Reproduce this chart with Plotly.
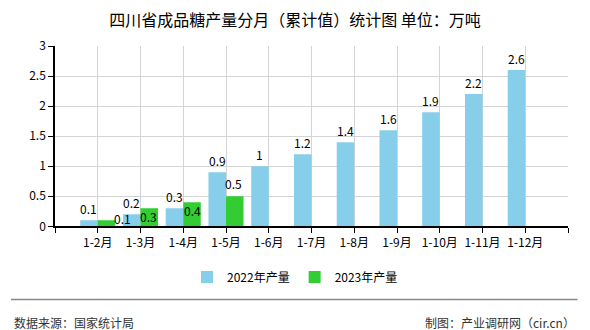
import plotly.graph_objects as go

categories = ["1-2月", "1-3月", "1-4月", "1-5月", "1-6月", "1-7月", "1-8月", "1-9月", "1-10月", "1-11月", "1-12月"]
values_2022 = [0.1, 0.2, 0.3, 0.9, 1, 1.2, 1.4, 1.6, 1.9, 2.2, 2.6]
values_2023 = [0.1, 0.3, 0.4, 0.5, None, None, None, None, None, None, None]
y_ticks = [0, 0.5, 1, 1.5, 2, 2.5, 3]
y_tick_labels = ["0", "0.5", "1", "1.5", "2", "2.5", "3"]

# label pixel offsets for the 2023 series (as drawn in the reference)
label_dx_2023 = [16, -1, 0, -1]
label_dy_2023 = [2, -8, -8, 13]

FONT = "SimSun, Noto Sans CJK SC, sans-serif"
BLUE = "#87CEEB"
GREEN = "#32CD32"
BARGAP = 0.18

xs = list(range(len(categories)))

fig = go.Figure()
fig.add_trace(go.Bar(x=xs, y=values_2022, name="2022年产量", marker_color=BLUE,
                     marker_line_width=0))
fig.add_trace(go.Bar(x=xs, y=values_2023, name="2023年产量", marker_color=GREEN,
                     marker_line_width=0))

half = (1 - BARGAP) / 4  # centre offset of each bar inside a group

annotations = []
for i, v in enumerate(values_2022):
    annotations.append(dict(x=i - half, y=v, xref="x", yref="y", text=str(v),
                            showarrow=False, yanchor="middle", yshift=12,
                            font=dict(family=FONT, size=12, color="#000")))
for i, v in enumerate(values_2023):
    if v is None:
        continue
    annotations.append(dict(x=i + half, y=v, xref="x", yref="y", text=str(v),
                            showarrow=False, yanchor="middle",
                            xshift=label_dx_2023[i], yshift=label_dy_2023[i],
                            font=dict(family=FONT, size=12, color="#000")))

annotations.append(dict(text="数据来源：国家统计局", xref="paper", yref="paper",
                        x=-0.0829, y=-0.5355, xanchor="left", yanchor="middle", showarrow=False,
                        font=dict(family=FONT, size=12, color="#333")))
annotations.append(dict(text="制图：产业调研网（cir.cn）", xref="paper", yref="paper",
                        x=1.0185, y=-0.5355, xanchor="right", yanchor="middle", showarrow=False,
                        font=dict(family=FONT, size=12, color="#333")))

tickvals = [-1] + xs + [len(categories)]
ticktext = [""] + categories + [""]

fig.update_layout(
    width=590, height=330,
    margin=dict(l=55, r=22, t=46, b=101),
    paper_bgcolor="white", plot_bgcolor="white",
    barmode="group", bargap=BARGAP, bargroupgap=0,
    title=dict(text="四川省成品糖产量分月（累计值）统计图 单位：万吨", x=0.5, xref="container",
               y=1 - 20 / 330, yref="container", xanchor="center", yanchor="middle",
               font=dict(family=FONT, size=16, color="#000")),
    font=dict(family=FONT, size=12, color="#000"),
    xaxis=dict(range=[-1, len(categories)], tickmode="array", tickvals=tickvals, ticktext=ticktext,
               showgrid=True, gridcolor="#d4d4d4", gridwidth=1,
               showline=True, linecolor="#000", linewidth=1.5,
               ticks="outside", ticklen=5, tickcolor="#000", tickwidth=1,
               tickfont=dict(family=FONT, size=12, color="#000"), zeroline=False,
               fixedrange=True),
    yaxis=dict(range=[0, 3], tickmode="array", tickvals=y_ticks, ticktext=y_tick_labels,
               showgrid=True, gridcolor="#d4d4d4", gridwidth=1,
               showline=True, linecolor="#000", linewidth=1.5,
               ticks="outside", ticklen=5, tickcolor="#000", tickwidth=1,
               tickfont=dict(family=FONT, size=12, color="#000"), zeroline=False,
               fixedrange=True),
    legend=dict(orientation="h", xref="container", yref="container", x=0.5, y=1 - 277 / 330,
                xanchor="center", yanchor="middle", font=dict(family=FONT, size=12, color="#000"),
                itemclick=False, itemdoubleclick=False, bgcolor="rgba(0,0,0,0)"),
    annotations=annotations,
    shapes=[dict(type="line", xref="paper", yref="paper", x0=-0.0858, x1=1.0185,
                 y0=-0.4057, y1=-0.4057, line=dict(color="#888", width=1.5))],
)

fig.write_html("out.html")
